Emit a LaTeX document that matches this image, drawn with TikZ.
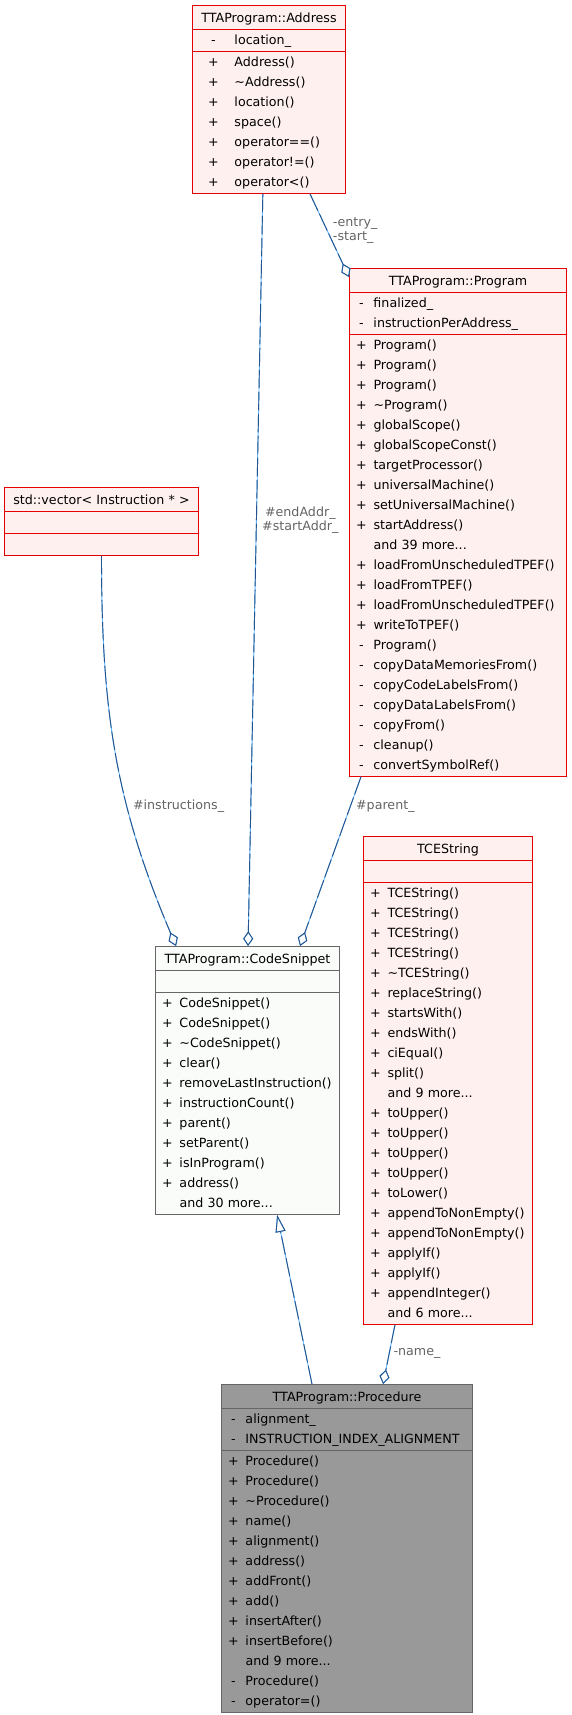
\documentclass[tikz,border=0pt]{standalone}
\usepackage{fontspec}
\setmainfont{DejaVu Sans}
\usetikzlibrary{shapes.multipart,arrows.meta,calc}

\definecolor{docred}{RGB}{230,0,0}
\definecolor{docpink}{RGB}{255,240,240}
\definecolor{docgrey}{RGB}{102,102,102}
\definecolor{docwhite}{RGB}{250,252,250}
\definecolor{docdark}{RGB}{153,153,153}
\definecolor{edgeblue}{RGB}{38,84,140}
\definecolor{edgesky}{RGB}{99,184,255}
\definecolor{labelgrey}{RGB}{100,100,100}

% one line of a class box: visibility sign, then member
\newcommand{\mrow}[3][18pt]{\noindent\makebox[#1][c]{#2}#3\strut\par}
\newcommand{\mhead}[1]{\noindent\makebox[\hsize][c]{#1}\rule[-4.75pt]{0pt}{16.5pt}\par}

\tikzset{
	umlclass/.style={rectangle split, rectangle split parts=3, draw, line width=0.75pt,
		inner xsep=0pt, inner ysep=0.35pt, align=left, anchor=north west,
		font=\fontsize{9.5}{15}\selectfont},
	redclass/.style={umlclass, draw=docred, fill=docpink},
	greyclass/.style={umlclass, draw=docgrey, fill=docwhite},
	mainclass/.style={umlclass, draw=docgrey, fill=docdark},
	useedge/.style={draw=edgeblue, line width=0.7pt, dash pattern=on 14pt off 2.5pt,
		preaction={draw=edgesky, solid, line width=0.7pt}},
	agg/.style={-{Diamond[open, length=11pt, width=7.5pt]}},
	inherit/.style={-{Triangle[open, length=13pt, width=7.5pt]}},
	rolelabel/.style={font=\fontsize{9.5}{11}\selectfont, text=labelgrey, inner sep=1pt, anchor=west}
}

\begin{document}
\begin{tikzpicture}[x=0.75pt,y=-0.75pt]
		\useasboundingbox (0,0) rectangle (571,1715);
		
		% classes
		\node[redclass, text width=114.75pt] (addr) at (192,5)
		{\mhead{TTAProgram::Address}
			\nodepart{second}\mrow[31.5pt]{-}{location\_}
			\nodepart{third}\mrow[31.5pt]{+}{Address()}
			\mrow[31.5pt]{+}{\textasciitilde Address()}
			\mrow[31.5pt]{+}{location()}
			\mrow[31.5pt]{+}{space()}
			\mrow[31.5pt]{+}{operator==()}
			\mrow[31.5pt]{+}{operator!=()}
			\mrow[31.5pt]{+}{operator<()}};
		
		\node[redclass, text width=162.75pt] (prog) at (349,268)
		{\mhead{TTAProgram::Program}
			\nodepart{second}\mrow{-}{finalized\_}
			\mrow{-}{instructionPerAddress\_}
			\nodepart{third}\mrow{+}{Program()}
			\mrow{+}{Program()}
			\mrow{+}{Program()}
			\mrow{+}{\textasciitilde Program()}
			\mrow{+}{globalScope()}
			\mrow{+}{globalScopeConst()}
			\mrow{+}{targetProcessor()}
			\mrow{+}{universalMachine()}
			\mrow{+}{setUniversalMachine()}
			\mrow{+}{startAddress()}
			\mrow{}{and 39 more...}
			\mrow{+}{loadFromUnscheduledTPEF()}
			\mrow{+}{loadFromTPEF()}
			\mrow{+}{loadFromUnscheduledTPEF()}
			\mrow{+}{writeToTPEF()}
			\mrow{-}{Program()}
			\mrow{-}{copyDataMemoriesFrom()}
			\mrow{-}{copyCodeLabelsFrom()}
			\mrow{-}{copyDataLabelsFrom()}
			\mrow{-}{copyFrom()}
			\mrow{-}{cleanup()}
			\mrow{-}{convertSymbolRef()}};
		
		\node[redclass, text width=145.5pt] (vec) at (4,487)
		{\mhead{std::vector< Instruction * >}
			\nodepart{second}\mrow{}{}
			\nodepart{third}\mrow{}{}};
		
		\node[greyclass, text width=138pt] (snip) at (155,946)
		{\mhead{TTAProgram::CodeSnippet}
			\nodepart{second}\mrow{}{}
			\nodepart{third}\mrow{+}{CodeSnippet()}
			\mrow{+}{CodeSnippet()}
			\mrow{+}{\textasciitilde CodeSnippet()}
			\mrow{+}{clear()}
			\mrow{+}{removeLastInstruction()}
			\mrow{+}{instructionCount()}
			\mrow{+}{parent()}
			\mrow{+}{setParent()}
			\mrow{+}{isInProgram()}
			\mrow{+}{address()}
			\mrow{}{and 30 more...}};
		
		\node[redclass, text width=126.75pt] (tce) at (363,836)
		{\mhead{TCEString}
			\nodepart{second}\mrow{}{}
			\nodepart{third}\mrow{+}{TCEString()}
			\mrow{+}{TCEString()}
			\mrow{+}{TCEString()}
			\mrow{+}{TCEString()}
			\mrow{+}{\textasciitilde TCEString()}
			\mrow{+}{replaceString()}
			\mrow{+}{startsWith()}
			\mrow{+}{endsWith()}
			\mrow{+}{ciEqual()}
			\mrow{+}{split()}
			\mrow{}{and 9 more...}
			\mrow{+}{toUpper()}
			\mrow{+}{toUpper()}
			\mrow{+}{toUpper()}
			\mrow{+}{toUpper()}
			\mrow{+}{toLower()}
			\mrow{+}{appendToNonEmpty()}
			\mrow{+}{appendToNonEmpty()}
			\mrow{+}{applyIf()}
			\mrow{+}{applyIf()}
			\mrow{+}{appendInteger()}
			\mrow{}{and 6 more...}};
		
		\node[mainclass, text width=188.25pt] (proc) at (221,1384)
		{\mhead{TTAProgram::Procedure}
			\nodepart{second}\mrow{-}{alignment\_}
			\mrow{-}{INSTRUCTION\_INDEX\_ALIGNMENT}
			\nodepart{third}\mrow{+}{Procedure()}
			\mrow{+}{Procedure()}
			\mrow{+}{\textasciitilde Procedure()}
			\mrow{+}{name()}
			\mrow{+}{alignment()}
			\mrow{+}{address()}
			\mrow{+}{addFront()}
			\mrow{+}{add()}
			\mrow{+}{insertAfter()}
			\mrow{+}{insertBefore()}
			\mrow{}{and 9 more...}
			\mrow{-}{Procedure()}
			\mrow{-}{operator=()}};
		
		% relations
		\draw[useedge, agg] ($(addr.south west)!.766!(addr.south east)$) -- ([yshift=-6.75pt]prog.north west)
		node[rolelabel, pos=.44, xshift=3pt, align=left] (lentry) {-entry\_\\-start\_};
		\draw[useedge, agg] ($(addr.south west)!.46!(addr.south east)$) -- ($(snip.north west)!.503!(snip.north east)$)
		node[rolelabel, pos=.434, xshift=3pt, align=center] (laddr) {\#endAddr\_\\\#startAddr\_};
		\draw[useedge, agg] (vec.south) to[out=-90, in=113]
		node[rolelabel, pos=.64, xshift=3pt] (linstr) {\#instructions\_}
		($(snip.north west)!.114!(snip.north east)$);
		\draw[useedge, agg] ($(prog.south west)!.055!(prog.south east)$) -- ($(snip.north west)!.784!(snip.north east)$)
		node[rolelabel, pos=.175, xshift=3pt] (lparent) {\#parent\_};
		\draw[useedge, agg] ($(tce.south west)!.188!(tce.south east)$) -- ($(proc.north west)!.643!(proc.north east)$)
		node[rolelabel, pos=.49, xshift=2pt] (lname) {-name\_};
		\draw[useedge, inherit] ($(proc.north west)!.361!(proc.north east)$) -- ($(snip.south west)!.66!(snip.south east)$);
\end{tikzpicture}
\end{document}
